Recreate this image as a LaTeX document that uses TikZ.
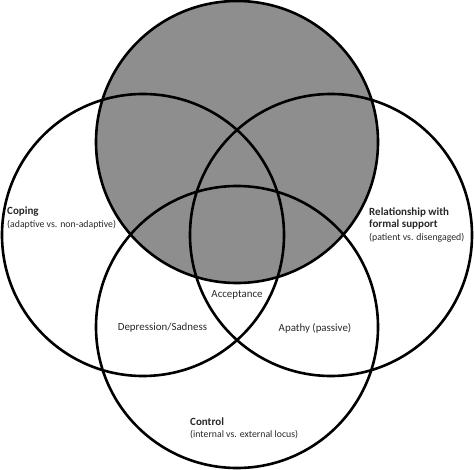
\documentclass[tikz,border=0pt]{standalone}
\usepackage{fontspec}
\setmainfont{Carlito}
\definecolor{topgray}{RGB}{142,142,142}
\definecolor{ink}{RGB}{40,40,40}
\newcommand{\head}[1]{{\fontsize{11}{12.5}\selectfont\bfseries #1}}
\tikzset{
  ring/.style={line width=2.6pt},
  lbl/.style={text=ink, inner sep=0pt, font=\fontsize{9.8}{12.5}\selectfont},
  zone/.style={lbl, font=\fontsize{10.9}{13}\selectfont},
}
\begin{document}
\begin{tikzpicture}[x=1pt,y=-1pt]
  \useasboundingbox (0,0) rectangle (474,470);
  \fill [topgray] (237,142) circle (141pt);
  \draw [ring] (237,142) circle (141pt);
  \draw [ring] (143,235) circle (141pt);
  \draw [ring] (331,235) circle (141pt);
  \draw [ring] (237,327) circle (141pt);
  \node (coping) [lbl, right, align=left] at (7,218) {\head{Coping}\\(adaptive vs. non-adaptive)};
  \node (relation) [lbl, right, align=left] at (369,224.5) {\head{Relationship with}\\\head{formal support}\\(patient vs. disengaged)};
  \node (control) [lbl, right, align=left] at (190,428.5) {\head{Control}\\(internal vs. external locus)};
  \node (accept) [zone] at (237,295) {Acceptance};
  \node (sad) [zone] at (162.5,328) {Depression/Sadness};
  \node (apathy) [zone] at (315,328) {Apathy (passive)};
\end{tikzpicture}
\end{document}
